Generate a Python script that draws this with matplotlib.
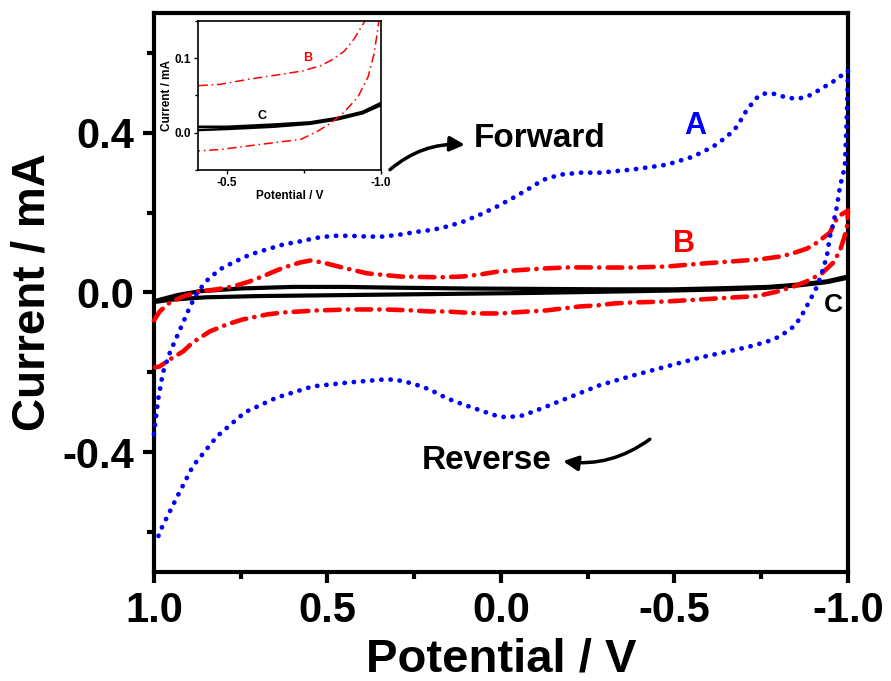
import numpy as np
import matplotlib
matplotlib.use('Agg')
import matplotlib.pyplot as plt
from matplotlib.ticker import MultipleLocator

plt.rcParams['font.family'] = ['Liberation Sans', 'DejaVu Sans']
plt.rcParams['font.weight'] = 'bold'

# Curve A (blue dotted): forward scan 1.0 -> -1.0, then reverse
a_fwd_v = [1.0, 0.988, 0.974, 0.954, 0.925, 0.896, 0.873, 0.844, 0.81, 0.772, 0.723, 0.674,
           0.628, 0.579, 0.53, 0.484, 0.435, 0.386, 0.34, 0.291, 0.242, 0.196, 0.156, 0.11,
           0.06, 0.012, -0.035, -0.075, -0.121, -0.17, -0.228, -0.285, -0.38, -0.478, -0.553,
           -0.611, -0.651, -0.68, -0.709, -0.738, -0.755, -0.784, -0.824, -0.853, -0.882,
           -0.919, -0.957, -1.0]
a_fwd_i = [-0.355, -0.268, -0.2, -0.15, -0.093, -0.035, 0.003, 0.033, 0.058, 0.075, 0.095, 0.108,
           0.12, 0.128, 0.137, 0.142, 0.142, 0.14, 0.14, 0.145, 0.152, 0.157, 0.165, 0.177,
           0.195, 0.215, 0.237, 0.257, 0.282, 0.295, 0.30, 0.30, 0.308, 0.32, 0.34,
           0.365, 0.39, 0.415, 0.458, 0.488, 0.498, 0.498, 0.488, 0.485, 0.49,
           0.508, 0.528, 0.555]
a_rev_v = [-0.998, -0.995, -0.991, -0.977, -0.968, -0.957, -0.948, -0.939, -0.925, -0.911,
           -0.89, -0.862, -0.841, -0.804, -0.767, -0.718, -0.669, -0.573, -0.478, -0.38,
           -0.285, -0.19, -0.118, -0.063, -0.017, 0.009, 0.06, 0.11, 0.156, 0.205, 0.254,
           0.305, 0.34, 0.435, 0.542, 0.646, 0.738, 0.818, 0.888, 0.934, 0.977, 0.991]
a_rev_i = [0.48, 0.40, 0.315, 0.265, 0.215, 0.17, 0.14, 0.09, 0.05, 0.015,
           -0.02, -0.065, -0.087, -0.11, -0.123, -0.135, -0.145, -0.163, -0.185, -0.208,
           -0.232, -0.265, -0.29, -0.308, -0.3125, -0.31, -0.295, -0.28, -0.265, -0.243, -0.228,
           -0.218, -0.218, -0.225, -0.235, -0.263, -0.3, -0.36, -0.435, -0.513, -0.588, -0.618]

# Curve B (red dash-dot)
b_fwd_v = [1.0, 0.983, 0.954, 0.916, 0.867, 0.818, 0.772, 0.723, 0.674, 0.628, 0.579, 0.55,
           0.513, 0.455, 0.386, 0.291, 0.176, 0.11, 0.06, 0.012, -0.035, -0.12, -0.20, -0.285,
           -0.38, -0.478, -0.573, -0.669, -0.746, -0.804, -0.841, -0.882, -0.911, -0.948,
           -0.971, -1.0]
b_fwd_i = [-0.07, -0.047, -0.025, -0.01, 0.003, 0.008, 0.015, 0.028, 0.045, 0.062, 0.075, 0.08,
           0.075, 0.062, 0.048, 0.04, 0.038, 0.04, 0.045, 0.052, 0.055, 0.06, 0.063, 0.0625,
           0.0625, 0.065, 0.072, 0.078, 0.083, 0.09, 0.098, 0.11, 0.125, 0.15,
           0.19, 0.205]
b_rev_v = [-0.998, -0.99, -0.977, -0.958, -0.925, -0.879, -0.837, -0.794, -0.739, -0.669,
           -0.573, -0.478, -0.38, -0.325, -0.276, -0.227, -0.178, -0.13, -0.081, -0.035, 0.0,
           0.06, 0.11, 0.156, 0.205, 0.254, 0.334, 0.435, 0.53, 0.628, 0.674, 0.744, 0.79,
           0.839, 0.888, 0.916, 0.954, 0.983, 0.997]
b_rev_i = [0.17, 0.14, 0.105, 0.075, 0.048, 0.027, 0.013, 0.002, -0.009, -0.0125,
           -0.0175, -0.0225, -0.025, -0.0275, -0.0325, -0.035, -0.04, -0.045, -0.0475, -0.05, -0.0525,
           -0.0525, -0.05, -0.0475, -0.0475, -0.045, -0.0425, -0.0425, -0.045, -0.05, -0.055, -0.0675, -0.08,
           -0.0975, -0.125, -0.1475, -0.1675, -0.185, -0.1875]

# Curve C (black solid)
c_fwd_v = [1.0, 0.97, 0.93, 0.87, 0.75, 0.6, 0.45, 0.3, 0.1, -0.1, -0.3, -0.5, -0.65, -0.77,
           -0.86, -0.94, -1.0]
c_fwd_i = [-0.022, -0.015, -0.006, 0.003, 0.01, 0.014, 0.014, 0.012, 0.01, 0.009, 0.008, 0.008,
           0.011, 0.014, 0.02, 0.028, 0.04]
c_rev_v = [-1.0, -0.94, -0.86, -0.77, -0.65, -0.5, -0.3, -0.1, 0.1, 0.3, 0.5, 0.7, 0.85, 0.95, 1.0]
c_rev_i = [0.037, 0.026, 0.018, 0.012, 0.008, 0.005, 0.002, -0.001, -0.003, -0.005, -0.007, -0.009,
           -0.012, -0.018, -0.024]

a_v = a_fwd_v + a_rev_v
a_i = a_fwd_i + a_rev_i
b_v = b_fwd_v + b_rev_v
b_i = b_fwd_i + b_rev_i
c_v = c_fwd_v + c_rev_v
c_i = c_fwd_i + c_rev_i

BLUE = '#0000ff'
RED = '#ff0000'

fig = plt.figure(figsize=(8.91, 6.81), dpi=100)
ax = fig.add_axes([0.1728, 0.160, 0.7789, 0.821])

ax.plot(c_v, c_i, color='black', lw=3.0, solid_capstyle='round', zorder=3, clip_on=False)
ax.plot(b_v, b_i, color=RED, lw=3.3, linestyle=(0, (3.2, 1.8, 0.05, 1.8)),
        dash_capstyle='round', zorder=4, clip_on=False)
ax.plot(a_v, a_i, color=BLUE, lw=3.4, linestyle=(0, (0.05, 1.9)),
        dash_capstyle='round', zorder=5, clip_on=False)

ax.set_xlim(1.0, -1.0)
ax.set_ylim(-0.7, 0.7)
ax.xaxis.set_major_locator(MultipleLocator(0.5))
ax.xaxis.set_minor_locator(MultipleLocator(0.25))
ax.yaxis.set_major_locator(MultipleLocator(0.4))
ax.yaxis.set_minor_locator(MultipleLocator(0.2))
ax.set_xticks([1.0, 0.5, 0.0, -0.5, -1.0])
ax.set_xticklabels(['1.0', '0.5', '0.0', '-0.5', '-1.0'])
ax.set_yticks([-0.4, 0.0, 0.4])
ax.set_yticklabels(['-0.4', '0.0', '0.4'])
ax.tick_params(which='major', direction='out', length=8, width=3, labelsize=30, pad=6)
ax.tick_params(which='minor', direction='out', length=5, width=3)
for lab in ax.get_xticklabels() + ax.get_yticklabels():
    lab.set_fontweight('bold')
for sp in ax.spines.values():
    sp.set_linewidth(3)
ax.set_xlabel('Potential / V', fontsize=34, fontweight='bold', labelpad=4)
ax.set_ylabel('Current / mA', fontsize=33, fontweight='bold', labelpad=6)

ax.text(-0.559, 0.4175, 'A', color=BLUE, fontsize=22, fontweight='bold', ha='center', va='center')
ax.text(-0.527, 0.1225, 'B', color=RED, fontsize=22, fontweight='bold', ha='center', va='center')
ax.text(-0.957, -0.0325, 'C', color='black', fontsize=19, fontweight='bold', ha='center', va='center')
ax.text(-0.112, 0.385, 'Forward', fontsize=24, fontweight='bold', ha='center', va='center')
ax.text(0.04, -0.42, 'Reverse', fontsize=24, fontweight='bold', ha='center', va='center')

ax.annotate('', xy=(0.104, 0.37), xytext=(0.32, 0.3075),
            arrowprops=dict(arrowstyle='-|>', connectionstyle='arc3,rad=-0.2',
                            color='black', lw=2.5, mutation_scale=22, shrinkA=0, shrinkB=0))
ax.annotate('', xy=(-0.179, -0.4225), xytext=(-0.429, -0.3675),
            arrowprops=dict(arrowstyle='-|>', connectionstyle='arc3,rad=-0.2',
                            color='black', lw=2.5, mutation_scale=22, shrinkA=0, shrinkB=0))

# inset: zoom of B and C near the negative end
ins = fig.add_axes([0.2222, 0.7504, 0.2054, 0.2188])
ins.plot(c_v, c_i, color='black', lw=1.8)
ins.plot(b_v, b_i, color=RED, lw=1.1, linestyle=(0, (6, 2.5, 1, 2.5)))
ins.set_xlim(-0.405, -1.0)
ins.set_ylim(-0.05, 0.15)
ins.set_xticks([-0.5, -1.0])
ins.set_xticklabels(['-0.5', '-1.0'])
ins.xaxis.set_minor_locator(MultipleLocator(0.25))
ins.set_yticks([0.0, 0.1])
ins.set_yticklabels(['0.0', '0.1'])
ins.yaxis.set_minor_locator(MultipleLocator(0.05))
ins.tick_params(which='major', direction='out', length=3, width=1, labelsize=8.5, pad=2)
ins.tick_params(which='minor', direction='out', length=2, width=1)
for lab in ins.get_xticklabels() + ins.get_yticklabels():
    lab.set_fontweight('bold')
for sp in ins.spines.values():
    sp.set_linewidth(1.2)
ins.set_xlabel('Potential / V', fontsize=8.5, fontweight='bold', labelpad=1)
ins.set_ylabel('Current / mA', fontsize=8.5, fontweight='bold', labelpad=1)
ins.text(-0.761, 0.1, 'B', color=RED, fontsize=9, fontweight='bold', ha='center', va='center')
ins.text(-0.614, 0.0227, 'C', color='black', fontsize=9, fontweight='bold', ha='center', va='center')

fig.savefig('out.png', dpi=100)
